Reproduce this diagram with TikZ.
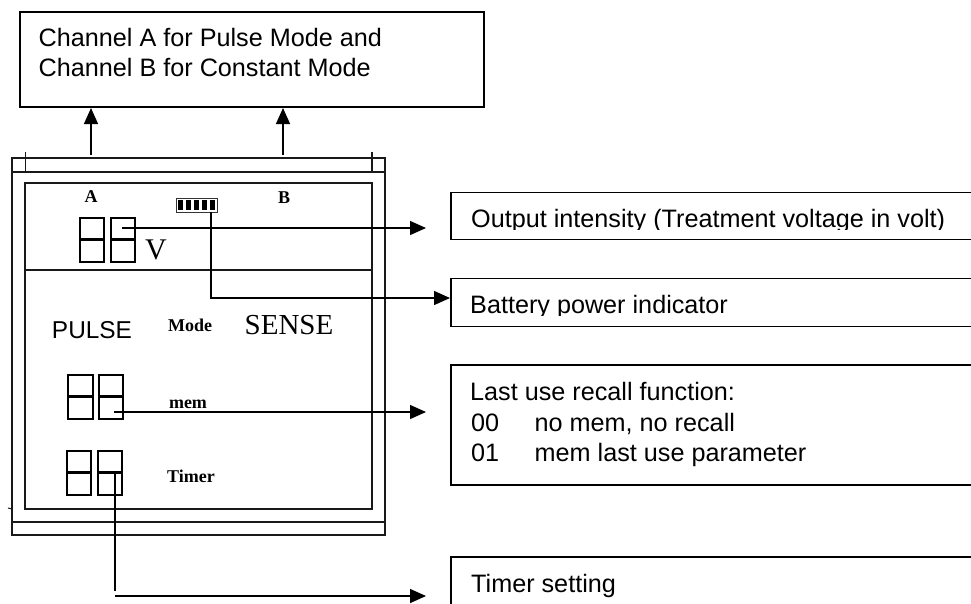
\documentclass[tikz,border=0pt]{standalone}
\usepackage{fontspec}
\setmainfont{Liberation Sans}
\newfontfamily\lcdserif{Liberation Serif}
\usetikzlibrary{arrows.meta}
\tikzset{
  x=1pt,y=-1pt,
  callout/.style={draw=black,line width=1.5pt,fill=none,rectangle,inner sep=0pt},
  boxlabel/.style={anchor=base west,inner sep=0pt,font=\fontsize{25.2}{29}\selectfont},
  lcdline/.style={draw=black!90,line width=1.7pt},
  digit/.style={draw=black,line width=1.7pt},
  leader/.style={draw=black,line width=1.4pt},
  arrowed/.style={leader,-{Triangle[length=16pt,width=14pt]}},
  lcdbold/.style={inner sep=0pt,font=\lcdserif\bfseries\fontsize{18}{18}\selectfont},
}
\newcommand{\twoseg}[5]{% name x1 x2 ytop ybot
  \draw[digit] (#2,#4) rectangle (#3,#5);
  \draw[digit,line width=2.4pt] (#2,{(#4+#5)/2-0.5}) -- (#3,{(#4+#5)/2-0.5});
}
\begin{document}
\begin{tikzpicture}
\useasboundingbox (0,0) rectangle (971,603);
\fill[white] (0,0) rectangle (971,603);

% callout boxes (running off the page)
\node[callout,minimum width=464pt,minimum height=95pt] (top) at (252,59.5) {};
\node[callout,minimum width=540pt,minimum height=47pt] (bout) at (721,216) {};
\node[callout,minimum width=540pt,minimum height=48pt] (bbat) at (721,302.5) {};
\node[callout,minimum width=540pt,minimum height=120pt] (bmem) at (721,425) {};
\node[callout,minimum width=540pt,minimum height=80pt] (btim) at (721,597) {};

% texts
\node[boxlabel] (t1) at (38.5,46.5) {Channel A for Pulse Mode and};
\node[boxlabel] (t2) at (38.5,76.5) {Channel B for Constant Mode};
\begin{scope}
\clip (460,195) rectangle (971,229.5);
\node[boxlabel] (tout) at (471,227) {Output intensity (Treatment voltage in volt)};
\end{scope}
\begin{scope}
\clip (460,281) rectangle (971,315);
\node[boxlabel] (tbat) at (470,313) {Battery power indicator};
\end{scope}
\node[boxlabel] (tm0) at (470,400) {Last use recall function:};
\node[boxlabel] (tm1) at (471,431.5) {00};
\node[boxlabel] (tm1b) at (534.5,431.5) {no mem, no recall};
\node[boxlabel] (tm2) at (471,461.5) {01};
\node[boxlabel] (tm2b) at (534.5,461.5) {mem last use parameter};
\node[boxlabel] (ttim) at (471,592) {Timer setting};

% LCD frame
\draw[lcdline] (12,158) rectangle (385,535);
\draw[lcdline] (12,172) -- (385,172);
\draw[lcdline,line width=1.3pt] (12,522) -- (385,522);
\draw[lcdline] (25,183) rectangle (372,509);
\draw[lcdline] (25,270) -- (372,270);
\draw[lcdline,line width=1pt] (25,152) -- (25,172);
\draw[lcdline] (372,152) -- (372,172);
\draw[lcdline,line width=1pt] (8,508) -- (12,509);

% digits
\twoseg{v1}{80}{104}{218}{262}
\twoseg{v2}{111}{135}{218}{262}
\twoseg{m1}{68}{93}{375}{419}
\twoseg{m2}{99}{123}{375}{419}
\twoseg{d1}{67}{91}{451}{495}
\twoseg{d2}{98}{122}{451}{495}

% battery
\draw[draw=black!80,line width=0.8pt] (176,198) rectangle (217,212);
\foreach \bx in {177.5,185.5,193.5,201.5,209.5}
  \fill[black] (\bx,200) rectangle ++(5.5,10);

% LCD legends
\node[lcdbold] (la) at (91,197) {A};
\node[lcdbold] (lb) at (284,198) {B};
\node[inner sep=0pt,font=\lcdserif\fontsize{30}{30}\selectfont] (lv) at (156,250) {V};
\node[inner sep=0pt,font=\fontsize{24.4}{25}\selectfont] (lp) at (92,330) {PULSE};
\node[lcdbold] (lmode) at (190,325) {Mode};
\node[inner sep=0pt,font=\lcdserif\fontsize{29}{29}\selectfont] (ls) at (289,325) {SENSE};
\node[lcdbold] (lmem) at (188,404) {mem};
\node[lcdbold] (ltim) at (191,476) {Timer};

% connector ends
\coordinate (aA) at (91,155);   \coordinate (aAe) at (91,108);
\coordinate (aB) at (283,155);  \coordinate (aBe) at (283,108);
\coordinate (vs) at (122,228);  \coordinate (ve) at (426,228);
\coordinate (bs) at (211,212);  \coordinate (bc) at (211,298); \coordinate (be) at (450,298);
\coordinate (ms) at (114,412);  \coordinate (me) at (426,412);
\coordinate (ts) at (115,471);  \coordinate (tc) at (115,591);
\coordinate (tb) at (115,596);  \coordinate (te) at (426,596);

\draw[arrowed] (aA) -- (aAe);
\draw[arrowed] (aB) -- (aBe);
\draw[arrowed] (vs) -- (ve);
\draw[arrowed] (bs) -- (bc) -- (be);
\draw[arrowed] (ms) -- (me);
\draw[leader] (ts) -- (tc);
\draw[arrowed] (tb) -- (te);
\end{tikzpicture}
\end{document}
